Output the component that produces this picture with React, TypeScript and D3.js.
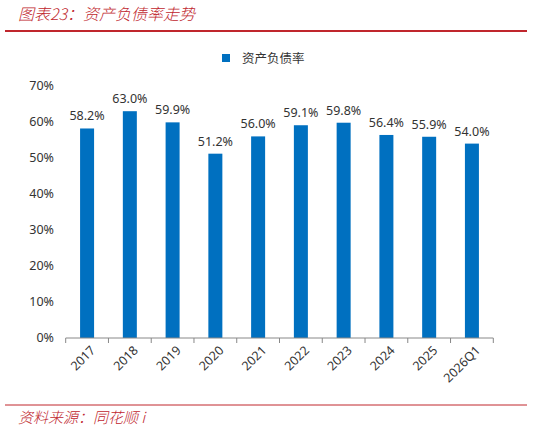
import React from "react";
import * as d3 from "d3";

const categories = ["2017", "2018", "2019", "2020", "2021", "2022", "2023", "2024", "2025", "2026Q1"];
const values = [58.2, 63.0, 59.9, 51.2, 56.0, 59.1, 59.8, 56.4, 55.9, 54.0];
const yTicks = [0, 10, 20, 30, 40, 50, 60, 70];
const seriesName = "资产负债率";
const title = "图表23：资产负债率走势";
const source = "资料来源：同花顺 i";

const W = 533;
const H = 430;
const RED = "#C0262D";
const BLUE = "#0070C0";
const FONT = "'Noto Sans', 'DejaVu Sans', sans-serif";
const CJK = "'Noto Sans CJK SC', sans-serif";

export default function App() {
  const x = d3.scaleBand<string>().domain(categories).range([65.7, 493.3]).padding(0);
  const y = d3.scaleLinear().domain([0, 70]).range([338, 86]);
  const barW = 14;

  return (
    <svg width={W} height={H} style={{ position: "absolute", left: 0, top: 0, background: "#fff" }}>
      <text x={18} y={20} fill={RED} fontSize={16} fontStyle="italic" fontWeight={300} fontFamily={CJK}>{title}</text>
      <line x1={5} x2={527} y1={31} y2={31} stroke={RED} strokeWidth={2} />

      <rect x={222} y={54} width={8} height={8} fill={BLUE} />
      <text x={242} y={62.5} fontSize={12.5} fill="#333" fontFamily={CJK}>{seriesName}</text>

      {yTicks.map((t) => (
        <text key={t} x={54} y={y(t)} dy="0.35em" textAnchor="end" fontSize={12.5} fill="#333" fontFamily={FONT}>
          {t}%
        </text>
      ))}

      {categories.map((c, i) => {
        const cx = (x(c) as number) + x.bandwidth() / 2;
        return (
          <g key={c}>
            <rect x={cx - barW / 2} y={y(values[i])} width={barW} height={y(0) - y(values[i])} fill={BLUE} />
            <text x={cx} y={y(values[i]) - 8} textAnchor="middle" fontSize={12.5} fill="#333" fontFamily={FONT}>
              {values[i].toFixed(1)}%
            </text>
            <text
              transform={`translate(${cx + 6},${348}) rotate(-45)`}
              textAnchor="end"
              dy="0.35em"
              fontSize={12.5}
              fill="#333"
              fontFamily={FONT}
            >
              {c}
            </text>
          </g>
        );
      })}

      <line x1={65.7} x2={493.3} y1={338} y2={338} stroke="#888" strokeWidth={1} />
      {[...categories.map((c) => x(c) as number), 493.3].map((tx, i) => (
        <line key={i} x1={tx} x2={tx} y1={338} y2={343} stroke="#888" strokeWidth={1} />
      ))}

      <line x1={5} x2={527} y1={405} y2={405} stroke={RED} strokeWidth={1} />
      <text x={18} y={423} fill={RED} fontSize={15} fontStyle="italic" fontWeight={300} fontFamily={CJK}>{source}</text>
    </svg>
  );
}
